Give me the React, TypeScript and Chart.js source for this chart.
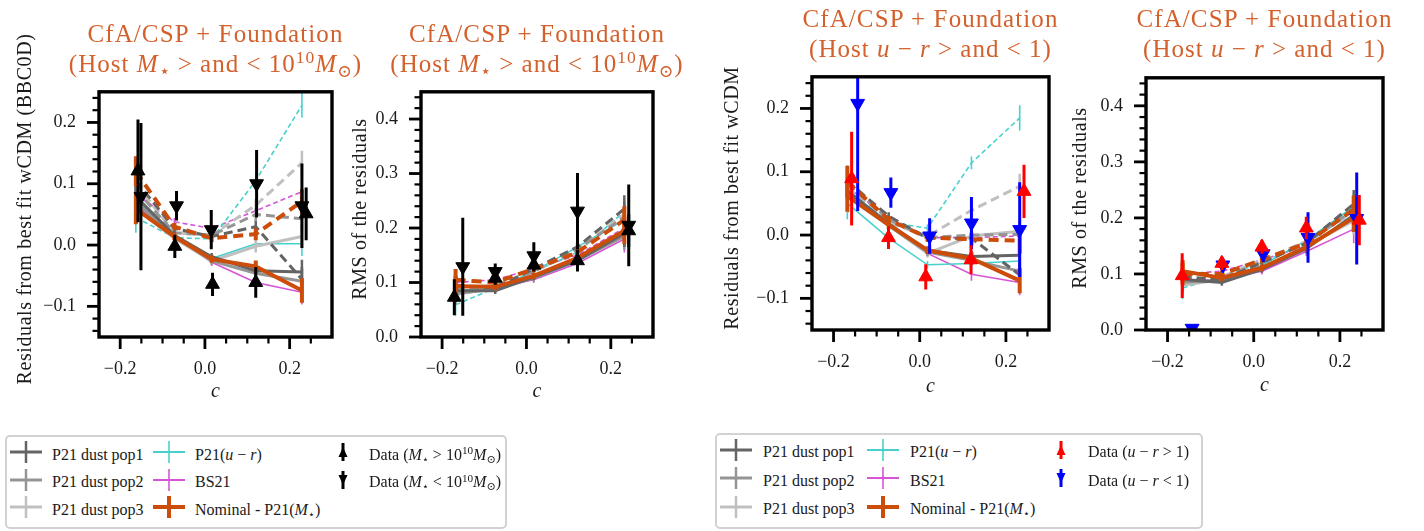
import React, { useEffect, useRef } from 'react';
import { Chart, registerables } from 'chart.js';

Chart.register(...registerables);

const SERIF = '"Liberation Serif", "Times New Roman", "DejaVu Serif", serif';
const TITLE_COLOR = '#d4602c';

// ---------------- axis tick values ----------------
const cMajorTicks = [-0.2, 0.0, 0.2];
const cMinorTicks = [-0.15, -0.1, -0.05, 0.05, 0.1, 0.15, 0.25];
const resMajorTicks = [-0.1, 0.0, 0.1, 0.2];
const resMinorTicks = [-0.14, -0.12, -0.08, -0.06, -0.04, -0.02, 0.02, 0.04, 0.06, 0.08, 0.12, 0.14, 0.16, 0.18, 0.22, 0.24];
const rmsMajorTicks = [0.0, 0.1, 0.2, 0.3, 0.4];
const rmsMinorTicks = [0.02, 0.04, 0.06, 0.08, 0.12, 0.14, 0.16, 0.18, 0.22, 0.24, 0.26, 0.28, 0.32, 0.34, 0.36, 0.38, 0.42, 0.44];

// ---------------- panel 1: residuals, host mass split ----------------
const p1_cModel = [-0.163, -0.072, 0.016, 0.12, 0.229];
const p1_pop1Hi = [0.079, 0.016, -0.019, -0.042, -0.044];
const p1_pop1Lo = [0.105, 0.027, 0.014, 0.03, -0.056];
const p1_pop2Hi = [0.07, 0.014, -0.026, -0.046, -0.059];
const p1_pop2Lo = [0.09, 0.02, 0.016, 0.05, 0.043];
const p1_pop3Hi = [0.06, 0.011, -0.026, -0.002, 0.014];
const p1_pop3Lo = [0.1, 0.02, 0.016, 0.065, 0.134];
const p1_urHi = [0.075, 0.01, -0.022, 0.002, 0.002];
const p1_urLo = [0.045, 0.012, 0.01, 0.105, 0.228];
const p1_bsHi = [0.065, 0.014, -0.028, -0.061, -0.077];
const p1_bsLo = [0.084, 0.038, 0.027, 0.056, 0.087];
const p1_nomHi = [0.059, 0.014, -0.023, -0.035, -0.074];
const p1_nomLo = [0.12, 0.03, 0.011, 0.018, 0.071];
const p1_cHi = [-0.158, -0.071, 0.018, 0.12, 0.239];
const p1_resHi = [0.121, -0.002, -0.064, -0.061, 0.051];
const p1_errHi = [0.084, 0.019, 0.019, 0.025, 0.043];
const p1_cLo = [-0.151, -0.067, 0.015, 0.122, 0.229];
const p1_resLo = [0.079, 0.064, 0.025, 0.1, 0.064];
const p1_errLo = [0.12, 0.024, 0.032, 0.055, 0.069];

// ---------------- panel 2: RMS, host mass split ----------------
const p2_cModel = [-0.168, -0.074, 0.017, 0.12, 0.232];
const p2_pop1Hi = [0.085, 0.085, 0.11, 0.14, 0.19];
const p2_pop1Lo = [0.095, 0.09, 0.125, 0.165, 0.235];
const p2_pop2Hi = [0.08, 0.088, 0.108, 0.14, 0.185];
const p2_pop2Lo = [0.09, 0.092, 0.12, 0.16, 0.22];
const p2_pop3Hi = [0.078, 0.09, 0.11, 0.145, 0.19];
const p2_pop3Lo = [0.088, 0.095, 0.122, 0.16, 0.225];
const p2_urHi = [0.085, 0.09, 0.12, 0.165, 0.215];
const p2_urLo = [0.059, 0.09, 0.12, 0.155, 0.23];
const p2_bsHi = [0.085, 0.09, 0.105, 0.135, 0.18];
const p2_bsLo = [0.1, 0.105, 0.125, 0.15, 0.2];
const p2_nomHi = [0.093, 0.092, 0.112, 0.145, 0.195];
const p2_nomLo = [0.105, 0.1, 0.125, 0.155, 0.215];
const p2_cHi = [-0.171, -0.074, 0.0175, 0.121, 0.2425];
const p2_rmsHi = [0.073, 0.108, 0.132, 0.14, 0.195];
const p2_errHi = [0.033, 0.012, 0.012, 0.02, 0.03];
const p2_cLo = [-0.151, -0.074, 0.0175, 0.121, 0.2425];
const p2_rmsLo = [0.129, 0.12, 0.149, 0.231, 0.205];
const p2_errLo = [0.09, 0.015, 0.025, 0.07, 0.075];

// ---------------- panel 3: residuals, host u-r split ----------------
const p3_cModel = [-0.168, -0.072, 0.018, 0.12, 0.232];
const p3_pop1Hi = [0.07, 0.018, -0.024, -0.034, -0.032];
const p3_pop1Lo = [0.085, 0.03, -0.005, -0.005, -0.063];
const p3_pop2Hi = [0.065, 0.015, -0.027, -0.04, -0.057];
const p3_pop2Lo = [0.08, 0.025, -0.004, 0.0, 0.001];
const p3_pop3Hi = [0.06, 0.015, -0.029, -0.0015, 0.006];
const p3_pop3Lo = [0.075, 0.02, -0.002, 0.039, 0.077];
const p3_urHi = [0.05, -0.005, -0.047, -0.045, -0.041];
const p3_urLo = [0.07, 0.02, 0.011, 0.114, 0.185];
const p3_bsHi = [0.06, 0.015, -0.029, -0.062, -0.075];
const p3_bsLo = [0.075, 0.029, -0.004, -0.004, -0.0015];
const p3_nomHi = [0.062, 0.016, -0.024, -0.037, -0.072];
const p3_nomLo = [0.084, 0.024, -0.004, -0.0065, -0.009];
const p3_cRed = [-0.158, -0.0725, 0.014, 0.119, 0.242];
const p3_resRed = [0.089, -0.004, -0.066, -0.039, 0.069];
const p3_errRed = [0.074, 0.018, 0.02, 0.023, 0.042];
const p3_cBlue = [-0.144, -0.067, 0.023, 0.12, 0.232];
const p3_resBlue = [0.208, 0.067, -0.0015, 0.019, 0.0086];
const p3_errBlue = [0.17, 0.024, 0.028, 0.041, 0.075];

// ---------------- panel 4: RMS, host u-r split ----------------
const p4_cModel = [-0.165, -0.074, 0.019, 0.122, 0.232];
const p4_pop1Hi = [0.09, 0.085, 0.108, 0.145, 0.205];
const p4_pop1Lo = [0.095, 0.09, 0.12, 0.155, 0.225];
const p4_pop2Hi = [0.085, 0.088, 0.11, 0.148, 0.2];
const p4_pop2Lo = [0.09, 0.092, 0.122, 0.155, 0.215];
const p4_pop3Hi = [0.08, 0.09, 0.11, 0.15, 0.195];
const p4_pop3Lo = [0.085, 0.095, 0.125, 0.158, 0.21];
const p4_urHi = [0.085, 0.09, 0.115, 0.16, 0.22];
const p4_urLo = [0.075, 0.095, 0.12, 0.155, 0.215];
const p4_bsHi = [0.088, 0.09, 0.105, 0.14, 0.18];
const p4_bsLo = [0.1, 0.105, 0.125, 0.15, 0.195];
const p4_nomHi = [0.105, 0.093, 0.111, 0.148, 0.2];
const p4_nomLo = [0.1, 0.1, 0.125, 0.155, 0.215];
const p4_cRed = [-0.166, -0.074, 0.019, 0.122, 0.245];
const p4_rmsRed = [0.097, 0.119, 0.148, 0.182, 0.196];
const p4_errRed = [0.04, 0.012, 0.012, 0.02, 0.045];
const p4_cBlue = [-0.143, -0.0716, 0.022, 0.126, 0.239];
const p4_rmsBlue = [0.003, 0.116, 0.136, 0.165, 0.199];
const p4_errBlue = [0, 0.012, 0.014, 0.045, 0.082];

// model uncertainties
const errModelRes = [0.025, 0.006, 0.006, 0.01, 0.02];
const errModelRms = [0.02, 0.006, 0.006, 0.008, 0.025];

// ---------------- styles ----------------
const MODEL_ORDER = ['pop1', 'pop2', 'pop3', 'ur', 'bs', 'nom'];
const MODEL_STYLES: any = {
  pop1: { color: '#646464', width: 3, errWidth: 2.5, dash: [9, 5] },
  pop2: { color: '#959595', width: 3, errWidth: 2.5, dash: [9, 5] },
  pop3: { color: '#c0c0c0', width: 3, errWidth: 2.5, dash: [9, 5] },
  ur: { color: '#48d1cc', width: 1.6, errWidth: 1.6, dash: [5, 3] },
  bs: { color: '#d655d6', width: 1.6, errWidth: 1.6, dash: [5, 3] },
  nom: { color: '#cc4c0a', width: 4, errWidth: 4, dash: [10, 6] },
};

const PAD_L = 100, PAD_T = 10, PAD_R = 10, PAD_B = 75;

const PANELS: any[] = [
  {
    box: { l: 99, t: 80, r: 332, b: 337 }, yMin: -0.15, yMax: 0.25,
    yMajor: resMajorTicks, yMinor: resMinorTicks,
    yTitle: 'Residuals from best fit wCDM (BBC0D)', yTitleX: 24, xTitleY: 392,
    modelC: p1_cModel, modelErr: errModelRes,
    models: {
      pop1: { hi: p1_pop1Hi, lo: p1_pop1Lo }, pop2: { hi: p1_pop2Hi, lo: p1_pop2Lo },
      pop3: { hi: p1_pop3Hi, lo: p1_pop3Lo }, ur: { hi: p1_urHi, lo: p1_urLo },
      bs: { hi: p1_bsHi, lo: p1_bsLo }, nom: { hi: p1_nomHi, lo: p1_nomLo },
    },
    hiC: p1_cHi, hiY: p1_resHi, hiErr: p1_errHi, hiColor: '#000000',
    loC: p1_cLo, loY: p1_resLo, loErr: p1_errLo, loColor: '#000000',
  },
  {
    box: { l: 421, t: 80, r: 653, b: 337 }, yMin: 0, yMax: 0.45,
    yMajor: rmsMajorTicks, yMinor: rmsMinorTicks,
    yTitle: 'RMS of the residuals', yTitleX: 359, xTitleY: 391.5,
    modelC: p2_cModel, modelErr: errModelRms,
    models: {
      pop1: { hi: p2_pop1Hi, lo: p2_pop1Lo }, pop2: { hi: p2_pop2Hi, lo: p2_pop2Lo },
      pop3: { hi: p2_pop3Hi, lo: p2_pop3Lo }, ur: { hi: p2_urHi, lo: p2_urLo },
      bs: { hi: p2_bsHi, lo: p2_bsLo }, nom: { hi: p2_nomHi, lo: p2_nomLo },
    },
    hiC: p2_cHi, hiY: p2_rmsHi, hiErr: p2_errHi, hiColor: '#000000',
    loC: p2_cLo, loY: p2_rmsLo, loErr: p2_errLo, loColor: '#000000',
  },
  {
    box: { l: 812, t: 65, r: 1049, b: 330 }, yMin: -0.15, yMax: 0.25,
    yMajor: resMajorTicks, yMinor: resMinorTicks,
    yTitle: 'Residuals from best fit wCDM', yTitleX: 731, xTitleY: 386.5,
    modelC: p3_cModel, modelErr: errModelRes,
    models: {
      pop1: { hi: p3_pop1Hi, lo: p3_pop1Lo }, pop2: { hi: p3_pop2Hi, lo: p3_pop2Lo },
      pop3: { hi: p3_pop3Hi, lo: p3_pop3Lo }, ur: { hi: p3_urHi, lo: p3_urLo },
      bs: { hi: p3_bsHi, lo: p3_bsLo }, nom: { hi: p3_nomHi, lo: p3_nomLo },
    },
    hiC: p3_cRed, hiY: p3_resRed, hiErr: p3_errRed, hiColor: '#ff0000',
    loC: p3_cBlue, loY: p3_resBlue, loErr: p3_errBlue, loColor: '#0000ff',
  },
  {
    box: { l: 1146, t: 66, r: 1383, b: 330 }, yMin: 0, yMax: 0.45,
    yMajor: rmsMajorTicks, yMinor: rmsMinorTicks,
    yTitle: 'RMS of the residuals', yTitleX: 1079, xTitleY: 385.5,
    modelC: p4_cModel, modelErr: errModelRms,
    models: {
      pop1: { hi: p4_pop1Hi, lo: p4_pop1Lo }, pop2: { hi: p4_pop2Hi, lo: p4_pop2Lo },
      pop3: { hi: p4_pop3Hi, lo: p4_pop3Lo }, ur: { hi: p4_urHi, lo: p4_urLo },
      bs: { hi: p4_bsHi, lo: p4_bsLo }, nom: { hi: p4_nomHi, lo: p4_nomLo },
    },
    hiC: p4_cRed, hiY: p4_rmsRed, hiErr: p4_errRed, hiColor: '#ff0000',
    loC: p4_cBlue, loY: p4_rmsBlue, loErr: p4_errBlue, loColor: '#0000ff',
  },
];

// ---------------- plugins ----------------
const errorBarPlugin: any = {
  id: 'errorBars',
  beforeDatasetDraw(chart: any, args: any) {
    const ds = chart.data.datasets[args.index];
    if (!ds.errors) return;
    const { ctx, chartArea: a } = chart;
    const xs = chart.scales.x, ys = chart.scales.y;
    ctx.save();
    ctx.beginPath();
    ctx.rect(a.left, a.top, a.right - a.left, a.bottom - a.top);
    ctx.clip();
    ctx.strokeStyle = ds.errColor;
    ctx.lineWidth = ds.errWidth;
    ctx.setLineDash([]);
    ds.data.forEach((pt: any, i: number) => {
      const e = ds.errors[i];
      if (!e) return;
      const px = xs.getPixelForValue(pt.x);
      ctx.beginPath();
      ctx.moveTo(px, ys.getPixelForValue(pt.y - e));
      ctx.lineTo(px, ys.getPixelForValue(pt.y + e));
      ctx.stroke();
    });
    ctx.restore();
  },
};

const frameTicksPlugin: any = {
  id: 'frameTicks',
  afterDraw(chart: any, _args: any, opts: any) {
    const { ctx, chartArea: a } = chart;
    const xs = chart.scales.x, ys = chart.scales.y;
    ctx.save();
    ctx.strokeStyle = '#000';
    ctx.setLineDash([]);
    const seg = (x1: number, y1: number, x2: number, y2: number) => {
      ctx.beginPath(); ctx.moveTo(x1, y1); ctx.lineTo(x2, y2); ctx.stroke();
    };
    ctx.lineWidth = 2.2;
    opts.xMinor.forEach((v: number) => { const p = xs.getPixelForValue(v); seg(p, a.bottom, p, a.bottom + 6.5); });
    opts.yMinor.forEach((v: number) => { const p = ys.getPixelForValue(v); seg(a.left, p, a.left - 6.5, p); });
    ctx.lineWidth = 2.8;
    opts.xMajor.forEach((v: number) => { const p = xs.getPixelForValue(v); seg(p, a.bottom, p, a.bottom + 12); });
    opts.yMajor.forEach((v: number) => { const p = ys.getPixelForValue(v); seg(a.left, p, a.left - 12, p); });
    ctx.lineWidth = 3.4;
    ctx.strokeRect(a.left, a.top, a.right - a.left, a.bottom - a.top);
    ctx.restore();
  },
};

const fmtTick = (v: any) => {
  const n = Number(v);
  if (Math.abs(n) < 1e-9) return '0.0';
  return n.toFixed(1).replace('-', '\u2212');
};

function buildConfig(p: any) {
  const pts = (xs: number[], ys: number[]) => xs.map((x, i) => ({ x, y: ys[i] }));
  const datasets: any[] = [];
  datasets.push({
    data: pts(p.hiC, p.hiY), errors: p.hiErr, errColor: p.hiColor, errWidth: 3,
    showLine: false, pointStyle: 'triangle', pointRadius: 8, pointRotation: 0,
    pointBackgroundColor: p.hiColor, pointBorderColor: p.hiColor, pointBorderWidth: 1,
    borderColor: p.hiColor, order: 0, clip: 0,
  });
  datasets.push({
    data: pts(p.loC, p.loY), errors: p.loErr, errColor: p.loColor, errWidth: 3,
    showLine: false, pointStyle: 'triangle', pointRadius: 8, pointRotation: 180,
    pointBackgroundColor: p.loColor, pointBorderColor: p.loColor, pointBorderWidth: 1,
    borderColor: p.loColor, order: 0, clip: 0,
  });
  MODEL_ORDER.forEach((key) => {
    const st = MODEL_STYLES[key];
    const m = p.models[key];
    ['hi', 'lo'].forEach((variant) => {
      datasets.push({
        data: pts(p.modelC, m[variant]), errors: p.modelErr, errColor: st.color, errWidth: st.errWidth,
        borderColor: st.color, backgroundColor: st.color, borderWidth: st.width,
        borderDash: variant === 'lo' ? st.dash : [], pointRadius: 0, pointHoverRadius: 0,
        tension: 0, fill: false, order: key === 'nom' ? 1 : 2, clip: 0,
      });
    });
  });

  const H = p.box.b - p.box.t + PAD_T + PAD_B;
  const xFont = 20;
  const xTitlePad = (p.box.t - PAD_T + H) - p.xTitleY - (xFont * 1.2) / 2;

  return {
    type: 'line',
    data: { datasets },
    plugins: [errorBarPlugin, frameTicksPlugin],
    options: {
      responsive: false,
      maintainAspectRatio: false,
      animation: false,
      devicePixelRatio: 1,
      events: [],
      layout: { padding: { left: 0, top: PAD_T, right: PAD_R, bottom: 0 } },
      plugins: {
        legend: { display: false },
        tooltip: { enabled: false },
        frameTicks: { xMajor: cMajorTicks, xMinor: cMinorTicks, yMajor: p.yMajor, yMinor: p.yMinor },
      },
      scales: {
        x: {
          type: 'linear', min: -0.25, max: 0.3,
          afterFit: (s: any) => { s.height = PAD_B; },
          afterBuildTicks: (s: any) => { s.ticks = cMajorTicks.map((v) => ({ value: v })); },
          grid: { drawOnChartArea: false, drawTicks: true, tickLength: 12, color: 'rgba(0,0,0,0)' },
          border: { display: false },
          ticks: { font: { family: SERIF, size: 18 }, color: '#1a1a1a', padding: 9, maxRotation: 0, autoSkip: false, callback: fmtTick },
          title: { display: true, text: 'c', color: '#1a1a1a', font: { family: SERIF, size: xFont, style: 'italic' }, padding: { top: 0, bottom: xTitlePad } },
        },
        y: {
          type: 'linear', min: p.yMin, max: p.yMax,
          afterFit: (s: any) => { s.width = PAD_L; },
          afterBuildTicks: (s: any) => { s.ticks = p.yMajor.map((v: number) => ({ value: v })); },
          grid: { drawOnChartArea: false, drawTicks: true, tickLength: 12, color: 'rgba(0,0,0,0)' },
          border: { display: false },
          ticks: { font: { family: SERIF, size: 18 }, color: '#1a1a1a', padding: 11, autoSkip: false, callback: fmtTick },
          title: { display: false },
        },
      },
    },
  };
}

function Panel({ p }: any) {
  const ref = useRef<HTMLCanvasElement | null>(null);
  useEffect(() => {
    const chart = new Chart(ref.current as any, buildConfig(p) as any);
    return () => chart.destroy();
  }, []);
  const W = p.box.r - p.box.l + PAD_L + PAD_R;
  const H = p.box.b - p.box.t + PAD_T + PAD_B;
  const cy = (p.box.t + p.box.b) / 2;
  return (
    <>
      <div style={{ position: 'absolute', left: p.box.l - PAD_L, top: p.box.t - PAD_T, width: W, height: H }}>
        <canvas ref={ref} width={W} height={H} style={{ width: W, height: H, display: 'block' }} />
      </div>
      <div style={{
        position: 'absolute', left: p.yTitleX, top: cy, transform: 'translate(-50%, -50%) rotate(-90deg)',
        fontFamily: SERIF, fontSize: 20, lineHeight: '20px', color: '#1a1a1a', whiteSpace: 'nowrap', letterSpacing: '0.6px',
      }}>{p.yTitle}</div>
    </>
  );
}

// ---------------- text helpers ----------------
const Sup = ({ children }: any) => (
  <span style={{ fontSize: '0.7em', position: 'relative', top: '-0.5em', lineHeight: 0 }}>{children}</span>
);
const Sub = ({ children }: any) => (
  <span style={{ fontSize: '0.7em', position: 'relative', top: '0.3em', lineHeight: 0 }}>{children}</span>
);
const Mstar = () => (<><i>M</i><Sub>⋆</Sub></>);
const Msun = () => (<><i>M</i><Sub>⊙</Sub></>);

function TextAt({ x, baseline, size, color, center, spacing, children }: any) {
  const asc = size * 0.8375;
  const style: any = {
    position: 'absolute', top: baseline - asc, fontFamily: SERIF, fontSize: size,
    lineHeight: `${size}px`, color: color || '#1a1a1a', whiteSpace: 'nowrap',
    letterSpacing: spacing || 'normal',
  };
  if (center) { style.left = x - 300; style.width = 600; style.textAlign = 'center'; }
  else { style.left = x; }
  return <div style={style}>{children}</div>;
}

function Titles({ cx, b1, b2, line2 }: any) {
  return (
    <>
      <TextAt x={cx} baseline={b1} size={25} color={TITLE_COLOR} center spacing="1.1px">CfA/CSP + Foundation</TextAt>
      <TextAt x={cx} baseline={b2} size={25} color={TITLE_COLOR} center spacing="1.0px">{line2}</TextAt>
    </>
  );
}

function LineHandle({ x, cy, color, lw, vw, dot }: any) {
  return (
    <svg style={{ position: 'absolute', left: x, top: cy - 12 }} width={32} height={24}>
      <line x1={0} y1={12} x2={32} y2={12} stroke={color} strokeWidth={lw} />
      <line x1={16} y1={1} x2={16} y2={23} stroke={color} strokeWidth={vw} />
      {dot ? <circle cx={16} cy={12} r={1.6} fill={color} /> : null}
    </svg>
  );
}

function MarkerHandle({ cx, cy, color, down }: any) {
  return (
    <svg style={{ position: 'absolute', left: cx - 8, top: cy - 12 }} width={16} height={24}>
      <line x1={8} y1={3} x2={8} y2={21} stroke={color} strokeWidth={3} />
      <polygon points={down ? '3.5,7 12.5,7 8,17' : '3.5,17 12.5,17 8,7'} fill={color} />
    </svg>
  );
}

function Legend({ left, top, width, height, col1, col2, col3, baselines, dataColors, dataLabels, dotUR }: any) {
  const fs = 16;
  const st = MODEL_STYLES;
  return (
    <>
      <div style={{ position: 'absolute', left, top, width, height, boxSizing: 'border-box', border: '2px solid #d2d2d2', borderRadius: 5, background: '#fff' }} />
      <LineHandle x={col1.h} cy={baselines[0] - 8} color={st.pop1.color} lw={3} vw={2.5} />
      <LineHandle x={col1.h} cy={baselines[1] - 8} color={st.pop2.color} lw={3} vw={2.5} />
      <LineHandle x={col1.h} cy={baselines[2] - 8} color={st.pop3.color} lw={3} vw={2.5} />
      <TextAt x={col1.t} baseline={baselines[0]} size={fs}>P21 dust pop1</TextAt>
      <TextAt x={col1.t} baseline={baselines[1]} size={fs}>P21 dust pop2</TextAt>
      <TextAt x={col1.t} baseline={baselines[2]} size={fs}>P21 dust pop3</TextAt>
      <LineHandle x={col2.h} cy={baselines[0] - 8} color={st.ur.color} lw={2} vw={1.6} dot={dotUR} />
      <LineHandle x={col2.h} cy={baselines[1] - 8} color={st.bs.color} lw={2} vw={1.6} dot={dotUR} />
      <LineHandle x={col2.h} cy={baselines[2] - 8} color={st.nom.color} lw={4} vw={4} />
      <TextAt x={col2.t} baseline={baselines[0]} size={fs}>P21(<i>u</i> − <i>r</i>)</TextAt>
      <TextAt x={col2.t} baseline={baselines[1]} size={fs}>BS21</TextAt>
      <TextAt x={col2.t} baseline={baselines[2]} size={fs}>Nominal - P21(<Mstar />)</TextAt>
      <MarkerHandle cx={col3.h} cy={baselines[0] - 8} color={dataColors[0]} />
      <MarkerHandle cx={col3.h} cy={baselines[1] - 8} color={dataColors[1]} down />
      <TextAt x={col3.t} baseline={baselines[0]} size={fs}>{dataLabels[0]}</TextAt>
      <TextAt x={col3.t} baseline={baselines[1]} size={fs}>{dataLabels[1]}</TextAt>
    </>
  );
}

export default function App() {
  const massLine = (<>(Host <Mstar /> &gt; and &lt; 10<Sup>10</Sup><Msun />)</>);
  const urLine = (<>(Host <i>u</i> − <i>r</i> &gt; and &lt; 1)</>);
  return (
    <div style={{ position: 'absolute', left: 0, top: 0, width: 1424, height: 531, background: '#fff', overflow: 'hidden' }}>
      {PANELS.map((p, i) => <Panel key={i} p={p} />)}
      <Titles cx={215.5} b1={41.5} b2={71.5} line2={massLine} />
      <Titles cx={537} b1={41.5} b2={71.5} line2={massLine} />
      <Titles cx={930.5} b1={26.7} b2={56.8} line2={urLine} />
      <Titles cx={1264.5} b1={26.7} b2={56.8} line2={urLine} />
      <Legend
        left={5} top={435} width={502} height={94}
        col1={{ h: 10, t: 52 }} col2={{ h: 153, t: 195 }} col3={{ h: 343, t: 369 }}
        baselines={[460, 487.5, 515]} dataColors={['#000', '#000']}
        dataLabels={[
          <>Data (<Mstar /> &gt; 10<Sup>10</Sup><Msun />)</>,
          <>Data (<Mstar /> &lt; 10<Sup>10</Sup><Msun />)</>,
        ]}
      />
      <Legend
        left={715} top={433} width={488} height={96}
        col1={{ h: 720, t: 763 }} col2={{ h: 867, t: 910 }} col3={{ h: 1061, t: 1088 }}
        baselines={[457.5, 486, 514.5]} dataColors={['#ff0000', '#0000ff']} dotUR
        dataLabels={[
          <>Data (<i>u</i> − <i>r</i> &gt; 1)</>,
          <>Data (<i>u</i> − <i>r</i> &lt; 1)</>,
        ]}
      />
    </div>
  );
}
